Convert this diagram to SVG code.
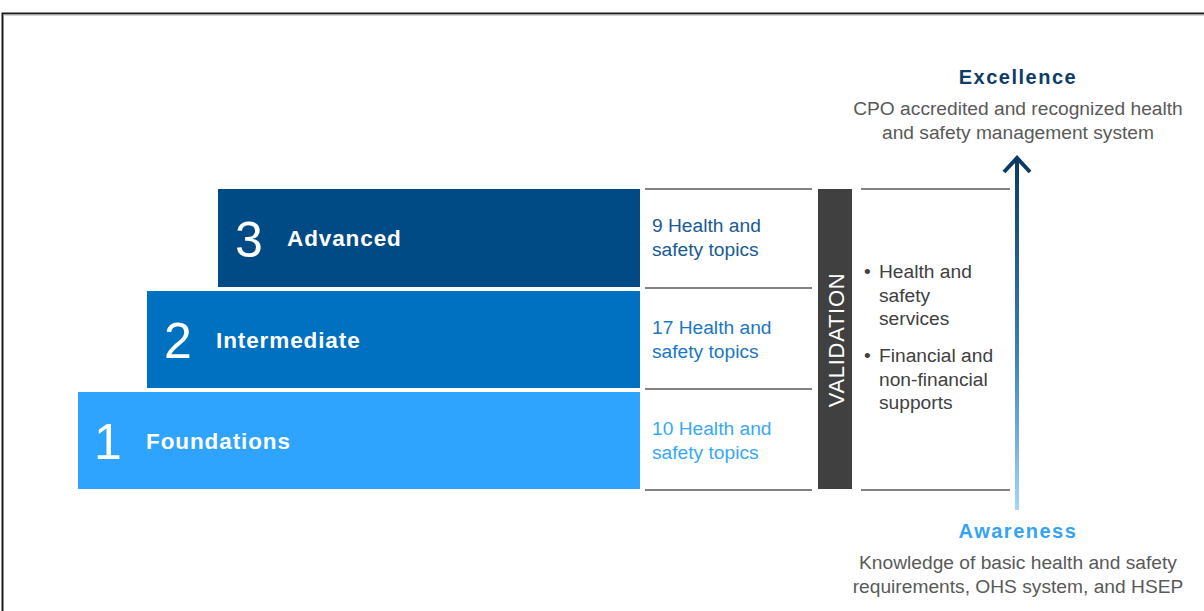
<svg xmlns="http://www.w3.org/2000/svg" width="1204" height="611" viewBox="0 0 1204 611">
<defs>
<linearGradient id="arrowGrad" x1="0" y1="1" x2="0" y2="0">
<stop offset="0" stop-color="#a3d6ff"/>
<stop offset="0.45" stop-color="#3d7fb8"/>
<stop offset="1" stop-color="#0b3a64"/>
</linearGradient>
<style>
.bar{stroke:none}
.num{font-family:"Liberation Sans",Arial,sans-serif;font-size:50px;fill:#fff}
.lbl{font-family:"Liberation Sans",Arial,sans-serif;font-size:22.5px;font-weight:bold;fill:#fff;letter-spacing:0.9px}
.topic{font-family:"Liberation Sans",Arial,sans-serif;font-size:19.2px}
.sep{stroke:#595959;stroke-width:1.3}
.body{font-family:"Liberation Sans",Arial,sans-serif;font-size:19.2px;fill:#595959}
.bul{font-family:"Liberation Sans",Arial,sans-serif;font-size:19.2px;fill:#404040}
.head{font-family:"Liberation Sans",Arial,sans-serif;font-size:20px;font-weight:bold;text-anchor:middle;letter-spacing:1.5px}
</style>
</defs>
<rect x="0" y="0" width="1204" height="611" fill="#fff"/>
<path d="M2.5 611 V13.5 H1204" fill="none" stroke="#1a1a1a" stroke-width="2"/>
<line x1="3" y1="15" x2="1204" y2="15" stroke="#b0b0b0" stroke-width="1"/>

<g id="level3">
<rect class="bar" x="218" y="189" width="422" height="98" fill="#004b85"/>
<text class="num" x="235" y="257">3</text>
<text class="lbl" x="287" y="246">Advanced</text>
</g>
<g id="level2">
<rect class="bar" x="147" y="291" width="493" height="97" fill="#0070c0"/>
<text class="num" x="164" y="358">2</text>
<text class="lbl" x="216" y="348">Intermediate</text>
</g>
<g id="level1">
<rect class="bar" x="78" y="392" width="562" height="97" fill="#2ea4ff"/>
<text class="num" x="94" y="459">1</text>
<text class="lbl" x="146" y="449">Foundations</text>
</g>

<g id="topics">
<line class="sep" x1="645" y1="189" x2="812" y2="189"/>
<line class="sep" x1="645" y1="288" x2="812" y2="288"/>
<line class="sep" x1="645" y1="389" x2="812" y2="389"/>
<line class="sep" x1="645" y1="490" x2="812" y2="490"/>
<text class="topic" fill="#1a5a94"><tspan x="652" y="232">9 Health and</tspan><tspan x="652" y="256">safety topics</tspan></text>
<text class="topic" fill="#1b77c4"><tspan x="652" y="334">17 Health and</tspan><tspan x="652" y="358">safety topics</tspan></text>
<text class="topic" fill="#38a8f5"><tspan x="652" y="435">10 Health and</tspan><tspan x="652" y="459">safety topics</tspan></text>
</g>

<g id="validation">
<rect x="818" y="189" width="34" height="300" fill="#404040"/>
<text transform="translate(844 340) rotate(-90)" text-anchor="middle" font-family="'Liberation Sans',Arial,sans-serif" font-size="22" letter-spacing="0.7" fill="#fff">VALIDATION</text>
</g>

<g id="supports">
<line class="sep" x1="861" y1="189" x2="1010" y2="189"/>
<line class="sep" x1="861" y1="490" x2="1010" y2="490"/>
<text class="bul"><tspan x="864" y="278">•</tspan><tspan x="879" y="278">Health and</tspan><tspan x="879" y="302">safety</tspan><tspan x="879" y="325">services</tspan></text>
<text class="bul"><tspan x="864" y="362">•</tspan><tspan x="879" y="362">Financial and</tspan><tspan x="879" y="386">non-financial</tspan><tspan x="879" y="409">supports</tspan></text>
</g>

<g id="connectors">
<rect x="1015" y="160" width="4" height="350" fill="url(#arrowGrad)"/>
<path d="M1004 172 L1017 158 L1030 172" fill="none" stroke="#0b3a64" stroke-width="4"/>
</g>

<g id="excellence">
<text class="head" x="1018" y="84" fill="#0d3d66">Excellence</text>
<text class="body" text-anchor="middle"><tspan x="1018" y="115">CPO accredited and recognized health</tspan><tspan x="1018" y="139">and safety management system</tspan></text>
</g>
<g id="awareness">
<text class="head" x="1018" y="538" fill="#33a3f4">Awareness</text>
<text class="body" text-anchor="middle"><tspan x="1018" y="569">Knowledge of basic health and safety</tspan><tspan x="1018" y="593">requirements, OHS system, and HSEP</tspan></text>
</g>
</svg>
